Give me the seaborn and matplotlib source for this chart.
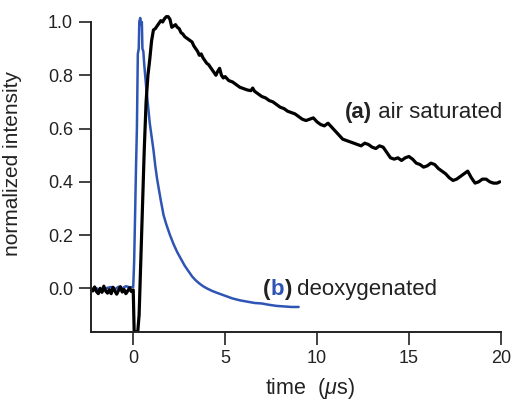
import numpy as np
import pandas as pd
import seaborn as sns
import matplotlib.pyplot as plt

# (a) air saturated trace
t_air = [-2.3, -2.2, -2.1, -2.0, -1.9, -1.8, -1.7, -1.6, -1.5, -1.4, -1.3, -1.2, -1.1, -1.0,
         -0.9, -0.8, -0.7, -0.6, -0.5, -0.4, -0.3, -0.2, -0.1, 0.0,
         0.05, 0.15, 0.25, 0.32, 0.4, 0.5, 0.6, 0.7, 0.8, 0.9, 1.0, 1.1, 1.2, 1.35, 1.5, 1.6,
         1.7, 1.8, 1.9, 2.0, 2.1, 2.2, 2.3, 2.4, 2.5, 2.6, 2.7, 2.8, 2.9, 3.0, 3.1, 3.2, 3.3,
         3.4, 3.5, 3.6, 3.7, 3.8, 3.9, 4.0, 4.1, 4.2, 4.3, 4.4, 4.5, 4.6, 4.7, 4.8, 4.9, 5.0,
         5.2, 5.4, 5.6, 5.8, 6.0, 6.2, 6.4, 6.5, 6.6, 6.8, 7.0, 7.2, 7.4, 7.6, 7.8, 8.0, 8.2,
         8.4, 8.6, 8.8, 9.0, 9.2, 9.4, 9.6, 9.8, 10.0, 10.2, 10.4, 10.6, 10.8, 11.0, 11.2,
         11.4, 11.6, 11.8, 12.0, 12.2, 12.4, 12.6, 12.8, 13.0, 13.2, 13.4, 13.6, 13.8, 14.0,
         14.2, 14.4, 14.6, 14.8, 15.0, 15.2, 15.4, 15.6, 15.8, 16.0, 16.2, 16.4, 16.6, 16.8,
         17.0, 17.2, 17.4, 17.6, 17.8, 18.0, 18.2, 18.4, 18.6, 18.8, 19.0, 19.2, 19.4, 19.6,
         19.8, 19.95]
y_air = [0.0, -0.01, 0.005, -0.012, -0.02, 0.0, -0.015, 0.008, -0.01, -0.018, -0.005, -0.02,
         0.004, -0.01, -0.022, -0.008, 0.006, -0.014, -0.004, -0.02, -0.01, 0.002, -0.012, -0.006,
         -0.16, -0.165, -0.16, -0.1, 0.08, 0.3, 0.52, 0.7, 0.8, 0.86, 0.93, 0.97, 0.975, 0.99,
         1.005, 1.0, 1.012, 1.02, 1.02, 1.01, 0.98, 0.985, 0.99, 0.98, 0.975, 0.96, 0.955, 0.945,
         0.94, 0.935, 0.93, 0.925, 0.91, 0.9, 0.89, 0.875, 0.88, 0.865, 0.855, 0.845, 0.84, 0.83,
         0.82, 0.81, 0.8, 0.815, 0.826, 0.8, 0.79, 0.795, 0.78, 0.775, 0.765, 0.755, 0.75, 0.745,
         0.742, 0.752, 0.74, 0.73, 0.72, 0.715, 0.705, 0.7, 0.69, 0.68, 0.675, 0.665, 0.66, 0.655,
         0.645, 0.635, 0.63, 0.635, 0.64, 0.625, 0.615, 0.61, 0.62, 0.605, 0.59, 0.575, 0.56,
         0.555, 0.55, 0.545, 0.54, 0.535, 0.545, 0.54, 0.53, 0.525, 0.535, 0.53, 0.51, 0.49,
         0.485, 0.49, 0.48, 0.49, 0.495, 0.485, 0.47, 0.465, 0.455, 0.46, 0.47, 0.465, 0.45,
         0.44, 0.43, 0.415, 0.405, 0.41, 0.42, 0.43, 0.44, 0.415, 0.395, 0.4, 0.41, 0.41, 0.4,
         0.395, 0.395, 0.4]

# (b) deoxygenated trace
t_deox = [-2.3, -2.0, -1.7, -1.4, -1.2, -1.0, -0.8, -0.6, -0.4, -0.2, 0.0,
          0.05, 0.1, 0.15, 0.2, 0.25, 0.3, 0.33, 0.38, 0.42, 0.47, 0.5, 0.55, 0.6, 0.65, 0.7,
          0.8, 0.9, 1.0, 1.1, 1.2, 1.3, 1.4, 1.5, 1.65, 1.8, 2.0, 2.2, 2.4, 2.6, 2.8, 3.0, 3.2,
          3.4, 3.6, 3.8, 4.0, 4.3, 4.6, 5.0, 5.4, 5.8, 6.2, 6.6, 7.0, 7.4, 7.8, 8.2, 8.6, 9.0]
y_deox = [-0.005, 0.0, -0.01, 0.002, 0.005, -0.004, 0.006, 0.0, 0.008, 0.004, 0.005,
          0.1, 0.27, 0.45, 0.6, 0.88, 0.9, 1.0, 1.015, 0.99, 1.0, 0.9, 0.89, 0.84, 0.8, 0.76,
          0.69, 0.62, 0.57, 0.52, 0.46, 0.41, 0.37, 0.33, 0.275, 0.24, 0.2, 0.165, 0.135, 0.11,
          0.085, 0.065, 0.045, 0.03, 0.018, 0.008, 0.0, -0.01, -0.018, -0.028, -0.038, -0.045,
          -0.05, -0.055, -0.057, -0.062, -0.066, -0.068, -0.07, -0.07]

blue = "#2e55b4"

sns.set_style("ticks")
plt.rcParams['font.family'] = ['Liberation Sans', 'DejaVu Sans']
plt.rcParams['mathtext.fontset'] = 'custom'
plt.rcParams['mathtext.rm'] = 'Liberation Sans'
plt.rcParams['mathtext.it'] = 'Liberation Sans:italic'
plt.rcParams['mathtext.bf'] = 'Liberation Sans:bold'

fig = plt.figure(figsize=(5.11, 4.0), dpi=100)
ax = fig.add_axes([0.178, 0.17, 0.802, 0.795])

sns.lineplot(x=t_deox, y=y_deox, ax=ax, color=blue, lw=1.8, sort=False, estimator=None)
sns.lineplot(x=t_air, y=y_air, ax=ax, color="black", lw=2.3, sort=False, estimator=None)

ax.set_xlim(-2.3, 20)
ax.set_ylim(-0.164, 1.03)
ax.set_xticks([0, 5, 10, 15, 20])
ax.set_yticks([0.0, 0.2, 0.4, 0.6, 0.8, 1.0])
ax.set_yticklabels(["0.0", "0.2", "0.4", "0.6", "0.8", "1.0"])
sns.despine(ax=ax)
ax.spines['left'].set_bounds(-0.164, 1.0)
for s in ['left', 'bottom']:
    ax.spines[s].set_linewidth(1.4)
    ax.spines[s].set_color('#222222')
ax.tick_params(length=9, width=1.2, labelsize=13, color='#222222', labelcolor='#222222', pad=4)

ax.set_xlabel(r"time  ($\mu$s)", fontsize=15.5, color='#222222')
ax.set_ylabel("normalized intensity", fontsize=15, color='#222222')
ax.xaxis.set_label_coords(0.534, -0.137)
ax.yaxis.set_label_coords(-0.168, 0.53)

ta = ax.text(11.5, 0.66, "(a)", fontsize=16, fontweight='bold', va='center', color='#222222')
ax.annotate(" air saturated", xy=(1, 0), xycoords=ta, va='bottom', fontsize=16, color='#222222')

tb1 = ax.text(7.07, -0.005, "(", fontsize=16, fontweight='bold', va='center', color='#222222')
tb2 = ax.annotate("b", xy=(1, 0), xycoords=tb1, va='bottom', fontsize=16, fontweight='bold', color=blue)
tb3 = ax.annotate(")", xy=(1, 0), xycoords=tb2, va='bottom', fontsize=16, fontweight='bold', color='#222222')
ax.annotate(" deoxygenated", xy=(1, 0), xycoords=tb3, va='bottom', fontsize=16, color='#222222')

fig.savefig("out.png", dpi=100)
